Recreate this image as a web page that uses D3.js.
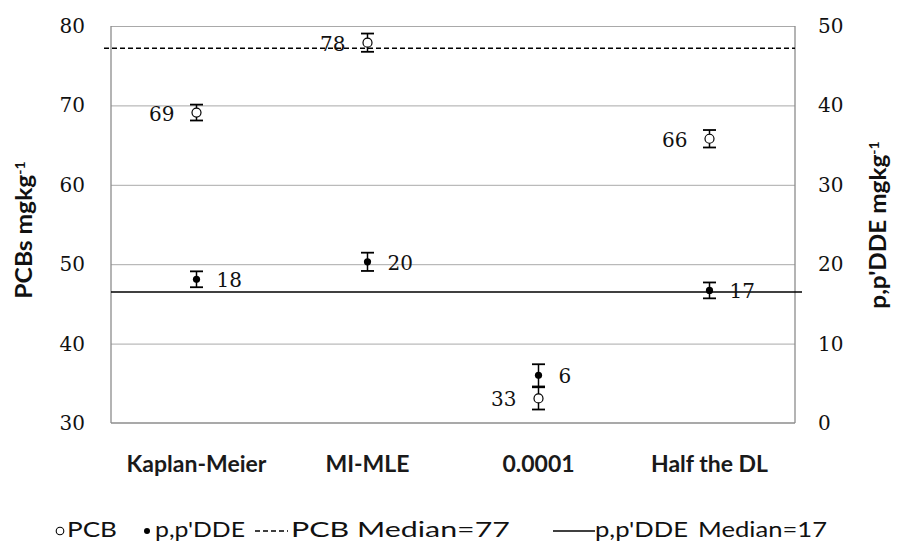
<!DOCTYPE html>
<html>
<head>
<meta charset="utf-8">
<script src="https://cdn.jsdelivr.net/npm/d3@7/dist/d3.min.js"></script>
<style>
  body { margin: 0; background: #fff; }
  svg { display: block; }
</style>
</head>
<body>
<div id="chart"></div>
<script>
// chart data
const categories = ["Kaplan-Meier", "MI-MLE", "0.0001", "Half the DL"];
const pcbValues = [69.1, 77.9, 33.1, 65.8];
const pcbErrors = [1.0, 1.15, 1.4, 1.1];
const pcbLabels = ["69", "78", "33", "66"];
const ddeValues = [18.1, 20.3, 6.0, 16.7];
const ddeErrors = [1.0, 1.15, 1.4, 1.0];
const ddeLabels = ["18", "20", "6", "17"];
const pcbMedianLine = 77.2;
const ddeMedianLine = 16.5;
const leftTicks = [30, 40, 50, 60, 70, 80];
const rightTicks = [0, 10, 20, 30, 40, 50];

const width = 898, height = 548;
const margin = { top: 26, right: 103, bottom: 125, left: 111 };
const plotW = width - margin.left - margin.right;
const plotH = height - margin.top - margin.bottom;

const svg = d3.select("#chart").append("svg")
    .attr("width", width)
    .attr("height", height);

const g = svg.append("g")
    .attr("transform", `translate(${margin.left},${margin.top})`);

const x = d3.scaleBand().domain(categories).range([0, plotW]);
const yL = d3.scaleLinear().domain([30, 80]).range([plotH, 0]);
const yR = d3.scaleLinear().domain([0, 50]).range([plotH, 0]);

const serif = "'DejaVu Serif', serif";
const sans = "Lato, 'Open Sans', sans-serif";

// gridlines
g.append("g")
    .attr("class", "grid")
    .call(d3.axisLeft(yL).tickValues(leftTicks.slice(1)).tickSize(-plotW).tickFormat(""))
    .call(s => s.select(".domain").remove())
    .selectAll("line")
    .attr("stroke", "#a9a9a9")
    .attr("stroke-width", 1);

// frame: left, right, bottom
g.append("line").attr("x1", 0).attr("x2", 0).attr("y1", 0).attr("y2", plotH)
    .attr("stroke", "#8c8c8c").attr("stroke-width", 1.3);
g.append("line").attr("x1", plotW).attr("x2", plotW).attr("y1", 0).attr("y2", plotH)
    .attr("stroke", "#8c8c8c").attr("stroke-width", 1.3);
g.append("line").attr("x1", 0).attr("x2", plotW).attr("y1", plotH).attr("y2", plotH)
    .attr("stroke", "#8c8c8c").attr("stroke-width", 1.3);

// left axis
g.append("g")
    .call(d3.axisLeft(yL).tickValues(leftTicks).tickSize(0).tickPadding(26))
    .call(s => s.select(".domain").remove())
    .selectAll("text")
    .style("font-family", serif)
    .style("font-size", "20px")
    .attr("fill", "#111");

// right axis
g.append("g")
    .attr("transform", `translate(${plotW},0)`)
    .call(d3.axisRight(yR).tickValues(rightTicks).tickSize(0).tickPadding(23))
    .call(s => s.select(".domain").remove())
    .selectAll("text")
    .style("font-family", serif)
    .style("font-size", "20px")
    .attr("fill", "#111");

// category axis
g.append("g")
    .attr("transform", `translate(0,${plotH})`)
    .call(d3.axisBottom(x).tickSize(0).tickPadding(33))
    .call(s => s.select(".domain").remove())
    .selectAll("text")
    .style("font-family", sans)
    .style("font-size", "23px")
    .style("font-weight", "bold")
    .attr("fill", "#1a1a1a");

// median lines
g.append("line")
    .attr("x1", -7).attr("x2", plotW)
    .attr("y1", yL(pcbMedianLine)).attr("y2", yL(pcbMedianLine))
    .attr("stroke", "#000").attr("stroke-width", 1.3)
    .attr("stroke-dasharray", "5,3");
g.append("line")
    .attr("x1", 0).attr("x2", plotW + 7)
    .attr("y1", yR(ddeMedianLine)).attr("y2", yR(ddeMedianLine))
    .attr("stroke", "#000").attr("stroke-width", 1.5);

const cx = d => x(d) + x.bandwidth() / 2;
const capW = 6.5;

function drawSeries(values, errors, scale, cls) {
    const pts = categories.map((c, i) => ({ c, v: values[i], e: errors[i] }));
    const grp = g.append("g").attr("class", cls);
    grp.selectAll(".stem").data(pts).enter().append("line")
        .attr("x1", d => cx(d.c)).attr("x2", d => cx(d.c))
        .attr("y1", d => scale(d.v + d.e)).attr("y2", d => scale(d.v - d.e))
        .attr("stroke", "#000").attr("stroke-width", 1.5);
    grp.selectAll(".capT").data(pts).enter().append("line")
        .attr("x1", d => cx(d.c) - capW).attr("x2", d => cx(d.c) + capW)
        .attr("y1", d => scale(d.v + d.e)).attr("y2", d => scale(d.v + d.e))
        .attr("stroke", "#000").attr("stroke-width", 1.8);
    grp.selectAll(".capB").data(pts).enter().append("line")
        .attr("x1", d => cx(d.c) - capW).attr("x2", d => cx(d.c) + capW)
        .attr("y1", d => scale(d.v - d.e)).attr("y2", d => scale(d.v - d.e))
        .attr("stroke", "#000").attr("stroke-width", 1.8);
    return { grp, pts };
}

const pcb = drawSeries(pcbValues, pcbErrors, yL, "pcb");
pcb.grp.selectAll("circle").data(pcb.pts).enter().append("circle")
    .attr("cx", d => cx(d.c)).attr("cy", d => yL(d.v))
    .attr("r", 4.5)
    .attr("fill", "#fff").attr("stroke", "#000").attr("stroke-width", 1.2);
pcb.grp.selectAll(".lbl").data(pcb.pts).enter().append("text")
    .attr("x", d => cx(d.c) - 22).attr("y", d => yL(d.v) + 8)
    .attr("text-anchor", "end")
    .style("font-family", serif).style("font-size", "20px").attr("fill", "#111")
    .text((d, i) => pcbLabels[i]);

const dde = drawSeries(ddeValues, ddeErrors, yR, "dde");
dde.grp.selectAll("circle").data(dde.pts).enter().append("circle")
    .attr("cx", d => cx(d.c)).attr("cy", d => yR(d.v))
    .attr("r", 3.6)
    .attr("fill", "#000");
dde.grp.selectAll(".lbl").data(dde.pts).enter().append("text")
    .attr("x", d => cx(d.c) + 20).attr("y", d => yR(d.v) + 8)
    .attr("text-anchor", "start")
    .style("font-family", serif).style("font-size", "20px").attr("fill", "#111")
    .text((d, i) => ddeLabels[i]);

// axis titles
const titleL = svg.append("text")
    .attr("transform", `translate(32,230) rotate(-90)`)
    .attr("text-anchor", "middle")
    .style("font-family", sans).style("font-size", "22px").style("font-weight", "bold")
    .attr("fill", "#111");
titleL.append("tspan").attr("textLength", 124).attr("lengthAdjust", "spacingAndGlyphs").text("PCBs mgkg");
titleL.append("tspan").attr("dy", "-0.5em").style("font-size", "14px").text("-1");

const titleR = svg.append("text")
    .attr("transform", `translate(886,225) rotate(-90)`)
    .attr("text-anchor", "middle")
    .style("font-family", sans).style("font-size", "22px").style("font-weight", "bold")
    .attr("fill", "#111");
titleR.append("tspan").attr("textLength", 154).attr("lengthAdjust", "spacingAndGlyphs").text("p,p'DDE mgkg");
titleR.append("tspan").attr("dy", "-0.5em").style("font-size", "14px").text("-1");

// legend
const leg = svg.append("g").attr("class", "legend");
const legY = 537;
const legText = (xPos, len, str) => leg.append("text")
    .attr("x", xPos).attr("y", legY)
    .attr("textLength", len).attr("lengthAdjust", "spacingAndGlyphs")
    .style("font-family", sans).style("font-size", "22px").attr("fill", "#111")
    .text(str);
leg.append("circle").attr("cx", 60).attr("cy", legY - 6).attr("r", 3.8)
    .attr("fill", "#fff").attr("stroke", "#000").attr("stroke-width", 1.1);
legText(67, 50, "PCB");
leg.append("circle").attr("cx", 147).attr("cy", legY - 6).attr("r", 3)
    .attr("fill", "#000");
legText(155, 90, "p,p'DDE");
leg.append("line").attr("x1", 255).attr("x2", 288).attr("y1", legY - 6).attr("y2", legY - 6)
    .attr("stroke", "#000").attr("stroke-width", 1.3).attr("stroke-dasharray", "5,3");
legText(291, 219, "PCB Median=77");
leg.append("line").attr("x1", 553).attr("x2", 595).attr("y1", legY - 6).attr("y2", legY - 6)
    .attr("stroke", "#000").attr("stroke-width", 1.5);
legText(595, 93, "p,p'DDE");
legText(698, 129, "Median=17");
</script>
</body>
</html>
